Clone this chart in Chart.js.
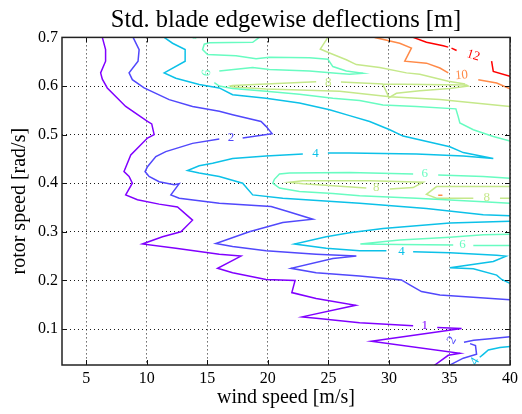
<!DOCTYPE html>
<html>
<head>
<meta charset="utf-8">
<script src="https://cdn.jsdelivr.net/npm/chart.js@4/dist/chart.umd.min.js"></script>
<style>
  html, body { margin: 0; padding: 0; background: #fff; }
  canvas { display: block; }
</style>
</head>
<body>
<canvas id="chart" width="522" height="414"></canvas>
<script>
// Axis ticks
const xTicks = [5, 10, 15, 20, 25, 30, 35, 40];
const yTicks = [0.1, 0.2, 0.3, 0.4, 0.5, 0.6, 0.7];

// Contour paths, [wind speed m/s, rotor speed rad/s]
// level 1
const lvl1_a = [[6.33,0.700],[6.60,0.675],[6.60,0.651],[6.19,0.627],[6.33,0.614],[6.74,0.596],[8.26,0.558],[10.06,0.527],[10.41,0.522],[10.61,0.500],[10.06,0.493],[8.68,0.458],[8.12,0.424],[8.54,0.414],[8.81,0.400],[8.26,0.376],[9.23,0.366],[11.02,0.357],[12.54,0.351],[13.78,0.324],[12.82,0.300],[11.30,0.290],[9.64,0.275],[12.40,0.266],[15.99,0.254],[17.78,0.250],[15.85,0.225],[17.09,0.216],[19.85,0.202],[22.25,0.200],[21.98,0.175],[23.99,0.163],[27.25,0.149],[22.83,0.125],[23.99,0.122],[27.58,0.113],[32.00,0.107]];
const lvl1_b = [[33.99,0.103],[36.00,0.101],[28.55,0.075],[35.86,0.050],[34.90,0.046],[33.79,0.026],[33.50,0.020]];
// level 2
const lvl2_a = [[8.87,0.700],[9.37,0.675],[9.28,0.651],[8.54,0.627],[8.81,0.613],[9.78,0.596],[11.85,0.572],[13.78,0.558],[15.99,0.548],[17.09,0.541],[19.44,0.527],[19.85,0.517],[20.35,0.502],[17.92,0.493]];
const lvl2_b = [[15.99,0.491],[13.78,0.482],[11.57,0.465],[10.75,0.455],[10.06,0.434],[9.86,0.424],[10.19,0.414],[11.02,0.403],[12.26,0.397],[12.68,0.399],[11.99,0.376],[12.68,0.369],[15.99,0.359],[20.27,0.352],[21.65,0.342],[23.72,0.326],[21.23,0.319],[18.47,0.300],[15.71,0.276],[17.09,0.270],[19.85,0.261],[23.99,0.254],[27.31,0.250],[25.37,0.245],[21.92,0.225],[23.99,0.216],[27.58,0.209],[31.03,0.201],[31.72,0.191],[32.69,0.177],[34.21,0.170],[40.00,0.160]];
const lvl2_c = [[40.00,0.084],[38.35,0.080],[37.00,0.077],[36.20,0.073]];
const lvl2_d = [[36.70,0.070],[37.15,0.066],[37.24,0.048],[36.14,0.040],[35.03,0.026],[34.80,0.020]];
// level 4
const lvl4_a = [[11.44,0.700],[12.13,0.688],[13.17,0.675],[13.17,0.651],[11.44,0.627],[12.40,0.616],[14.33,0.603],[15.99,0.596],[17.09,0.582],[19.85,0.575],[22.61,0.565],[25.10,0.551],[26.75,0.539],[28.41,0.527],[30.07,0.510],[31.17,0.497],[35.03,0.475],[36.14,0.463],[38.62,0.451],[36.14,0.456],[32.27,0.460],[26.75,0.462],[24.96,0.462]];
const lvl4_b = [[22.89,0.460],[19.85,0.456],[17.09,0.451],[15.44,0.441],[14.33,0.436],[13.37,0.426],[14.33,0.421],[15.99,0.414],[17.92,0.400],[18.75,0.376],[21.23,0.369],[27.58,0.359],[33.10,0.348],[37.79,0.335],[40.00,0.333]];
const lvl4_c = [[40.00,0.322],[35.03,0.318],[29.51,0.307],[26.75,0.298],[24.82,0.290],[22.20,0.275],[24.82,0.266],[27.58,0.261],[29.79,0.261]];
const lvl4_d = [[32.00,0.259],[35.03,0.257],[38.90,0.252],[39.67,0.250],[38.62,0.239],[35.03,0.226],[36.97,0.224],[38.90,0.211],[39.31,0.202],[40.00,0.194]];
const lvl4_e = [[40.00,0.064],[39.17,0.062],[38.21,0.057],[37.79,0.048],[37.50,0.042]];
// level 6
const lvl6_a = [[19.30,0.700],[18.75,0.690],[15.16,0.689],[14.75,0.686],[14.61,0.675],[15.02,0.665],[17.37,0.662],[19.03,0.656],[20.13,0.659],[23.44,0.658],[24.96,0.655],[25.37,0.640],[26.48,0.631],[27.86,0.626],[26.75,0.624],[25.65,0.626],[23.44,0.631],[20.13,0.634],[18.75,0.638],[15.99,0.631]];
const lvl6_b = [[15.58,0.607],[15.99,0.600],[17.09,0.595],[19.85,0.589],[22.61,0.583],[25.37,0.575],[27.58,0.570],[29.51,0.561],[32.27,0.558],[35.53,0.553],[35.72,0.537],[35.86,0.524],[36.97,0.510],[38.62,0.496],[40.00,0.487]];
const lvl6_c = [[40.00,0.410],[37.79,0.414],[34.07,0.417]];
const lvl6_d = [[32.00,0.419],[26.75,0.422],[21.79,0.421],[20.96,0.419],[20.54,0.408],[20.41,0.400],[20.96,0.390],[22.61,0.383],[25.37,0.379],[27.58,0.374],[32.27,0.369],[37.79,0.362],[40.00,0.359]];
const lvl6_e = [[40.00,0.295],[37.79,0.294],[35.03,0.289],[30.89,0.283],[27.64,0.275],[30.89,0.274],[35.31,0.273]];
const lvl6_f = [[36.97,0.272],[40.00,0.272]];
// level 8
const lvl8_a = [[24.96,0.700],[24.33,0.676],[25.10,0.668],[26.48,0.654],[27.31,0.644],[29.24,0.638],[31.45,0.627],[32.55,0.624],[34.90,0.610],[36.30,0.604]];
const lvl8_b = [[40.00,0.558],[34.21,0.572],[30.07,0.578],[25.93,0.589],[22.60,0.592],[19.85,0.594],[17.09,0.598],[16.90,0.600],[17.09,0.601],[23.99,0.609]];
const lvl8_c = [[26.04,0.608],[29.51,0.604],[36.41,0.602],[36.55,0.600],[35.03,0.595],[32.55,0.590],[30.62,0.585],[30.01,0.576],[29.51,0.603]];
const lvl8_d = [[28.13,0.390],[22.89,0.399],[21.79,0.402],[22.89,0.405],[28.41,0.405],[32.83,0.402],[32.00,0.391],[30.07,0.388]];
const lvl8_e = [[40.00,0.393],[33.93,0.393],[33.10,0.377],[33.93,0.369],[36.97,0.369]];
const lvl8_f = [[39.17,0.369],[40.00,0.369]];
// level 10
const lvl10_a = [[28.82,0.700],[30.89,0.688],[31.86,0.678],[31.31,0.651],[33.10,0.647],[34.21,0.637],[34.90,0.627]];
const lvl10_b = [[37.38,0.613],[38.90,0.606],[40.00,0.594]];
const lvl10_c = [[34.07,0.375],[34.42,0.375]];
// level 12
const lvl12_a = [[32.00,0.700],[33.10,0.690],[34.48,0.683],[34.90,0.680]];
const lvl12_b = [[35.17,0.678],[35.59,0.673]];
const lvl12_c = [[38.48,0.651],[38.62,0.630],[40.00,0.620]];

// Inline contour labels: level value and anchor point
const labelLevels = [1, 2, 2, 4, 4, 4, 6, 6, 6, 6, 8, 8, 8, 10, 12];
const labelX = [32.96, 16.96, 35.20, 23.94, 31.03, 37.10, 14.94, 32.96, 36.08, 13.92, 24.99, 28.96, 38.07, 36.00, 36.97];
const labelY = [0.107, 0.494, 0.077, 0.461, 0.259, 0.033, 0.627, 0.419, 0.274, 0.703, 0.608, 0.391, 0.370, 0.622, 0.663];

const SERIF = '"Liberation Serif", "DejaVu Serif", serif';
const levelColors = { 1: '#8000ff', 2: '#5148fc', 4: '#0cc1e8', 6: '#68fcc1', 8: '#c5e88a', 10: '#ff8a48', 12: '#ff0000' };
const labelAngles = [0, 0, -60, 0, 0, -60, -80, 0, 0, 0, 0, 0, 0, -5, 18];

const paths = [
  [1, lvl1_a], [1, lvl1_b],
  [2, lvl2_a], [2, lvl2_b], [2, lvl2_c], [2, lvl2_d],
  [4, lvl4_a], [4, lvl4_b], [4, lvl4_c], [4, lvl4_d], [4, lvl4_e],
  [6, lvl6_a], [6, lvl6_b], [6, lvl6_c], [6, lvl6_d], [6, lvl6_e], [6, lvl6_f],
  [8, lvl8_a], [8, lvl8_b], [8, lvl8_c], [8, lvl8_d], [8, lvl8_e], [8, lvl8_f],
  [10, lvl10_a], [10, lvl10_b], [10, lvl10_c],
  [12, lvl12_a], [12, lvl12_b], [12, lvl12_c]
];

const datasets = paths.map(([lvl, pts]) => ({
  label: String(lvl),
  data: pts.map(([x, y]) => ({ x, y })),
  showLine: true,
  borderColor: levelColors[lvl],
  backgroundColor: levelColors[lvl],
  borderWidth: 1.5,
  pointRadius: 0,
  pointHoverRadius: 0,
  tension: 0,
  fill: false
}));

// Contour labels drawn at their data positions
const contourLabels = {
  id: 'contourLabels',
  afterDatasetsDraw(chart) {
    const { ctx, chartArea: a, scales: { x, y } } = chart;
    ctx.save();
    ctx.beginPath();
    ctx.rect(a.left, a.top, a.right - a.left, a.bottom - a.top);
    ctx.clip();
    ctx.font = '13px ' + SERIF;
    ctx.textAlign = 'center';
    ctx.textBaseline = 'middle';
    labelLevels.forEach((lvl, i) => {
      ctx.save();
      ctx.translate(x.getPixelForValue(labelX[i]), y.getPixelForValue(labelY[i]));
      ctx.rotate(labelAngles[i] * Math.PI / 180);
      ctx.fillStyle = levelColors[lvl];
      ctx.fillText(String(lvl), 0, 0);
      ctx.restore();
    });
    ctx.restore();
  }
};

// Axes frame with inward ticks on all four sides
const axesFrame = {
  id: 'axesFrame',
  afterDraw(chart) {
    const { ctx, chartArea: a, scales: { x, y } } = chart;
    ctx.save();
    ctx.strokeStyle = '#111';
    ctx.lineWidth = 1;
    ctx.beginPath();
    x.ticks.forEach(t => {
      const px = Math.round(x.getPixelForValue(t.value)) + 0.5;
      ctx.moveTo(px, a.bottom); ctx.lineTo(px, a.bottom - 5);
      ctx.moveTo(px, a.top); ctx.lineTo(px, a.top + 5);
    });
    y.ticks.forEach(t => {
      const py = Math.round(y.getPixelForValue(t.value)) + 0.5;
      ctx.moveTo(a.left, py); ctx.lineTo(a.left + 5, py);
      ctx.moveTo(a.right, py); ctx.lineTo(a.right - 5, py);
    });
    ctx.stroke();
    ctx.lineWidth = 1.5;
    ctx.strokeStyle = '#222';
    ctx.strokeRect(a.left, a.top, a.right - a.left, a.bottom - a.top);
    ctx.restore();
  }
};

new Chart(document.getElementById('chart'), {
  type: 'scatter',
  data: { datasets },
  plugins: [contourLabels, axesFrame],
  options: {
    responsive: false,
    animation: false,
    devicePixelRatio: 1,
    layout: { padding: { left: 0, right: 11, top: 0, bottom: 0 } },
    plugins: {
      legend: { display: false },
      tooltip: { enabled: false },
      title: {
        display: true,
        fullSize: false,
        text: 'Std. blade edgewise deflections [m]',
        color: '#000',
        font: { family: SERIF, size: 24.5, weight: 'normal' },
        padding: { top: 6, bottom: 2 }
      }
    },
    scales: {
      x: {
        type: 'linear',
        min: 3,
        max: 40,
        afterBuildTicks: s => { s.ticks = xTicks.map(v => ({ value: v })); },
        afterFit: s => { s.height = 49; },
        ticks: {
          color: '#000',
          font: { family: SERIF, size: 16 },
          padding: 4,
          maxRotation: 0,
          autoSkip: false
        },
        grid: { color: '#000', lineWidth: 0.9, drawTicks: false },
        border: { display: false, dash: [1, 3] },
        title: {
          display: true,
          text: 'wind speed [m/s]',
          color: '#000',
          font: { family: SERIF, size: 20 },
          padding: { top: 0, bottom: 4 }
        }
      },
      y: {
        type: 'linear',
        min: 0.026,
        max: 0.7,
        afterBuildTicks: s => { s.ticks = yTicks.map(v => ({ value: v })); },
        afterFit: s => { s.width = 62; },
        ticks: {
          color: '#000',
          font: { family: SERIF, size: 16 },
          padding: 4,
          autoSkip: false,
          callback: v => Number(v).toFixed(1)
        },
        grid: { color: '#000', lineWidth: 0.9, drawTicks: false },
        border: { display: false, dash: [1, 3] },
        title: {
          display: true,
          text: 'rotor speed [rad/s]',
          color: '#000',
          font: { family: SERIF, size: 20 },
          padding: { top: 8, bottom: 0 }
        }
      }
    }
  }
});
</script>
</body>
</html>
